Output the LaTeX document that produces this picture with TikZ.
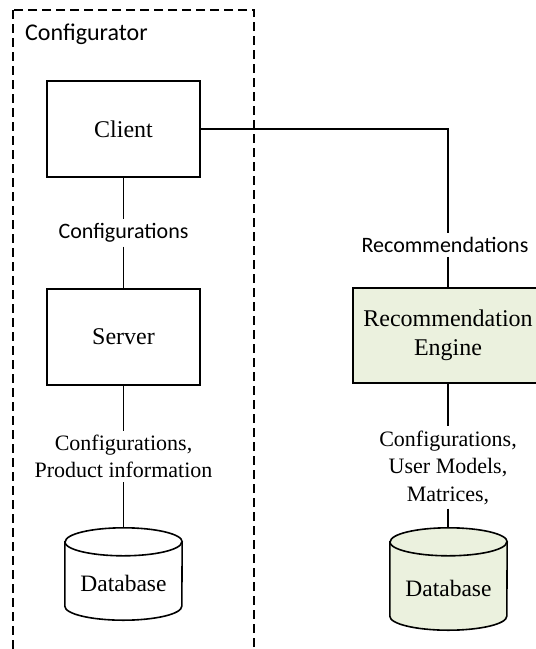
\documentclass[tikz,border=0pt]{standalone}
\usepackage{fontspec}
\setmainfont{Liberation Serif}
\setsansfont{Carlito}
\usepackage{tikz}
\usetikzlibrary{positioning, backgrounds}
\usepackage{xcolor}
\definecolor{enginegreen}{RGB}{235,241,222}

\begin{document}
\begin{tikzpicture}[x=1pt, y=-1pt,
    block/.style={draw, line width=1.5pt, minimum width=153pt, minimum height=96pt,
        align=center, font=\fontsize{24}{29}\selectfont},
    flowlabel/.style={inner sep=4pt, align=center, font=\fontsize{22}{27.5}\selectfont},
    sanslabel/.style={inner sep=4pt, font=\sffamily\fontsize{22}{25}\selectfont},
    dbbody/.style={minimum width=117pt, minimum height=#1, inner sep=0pt},
    dbtext/.style={yshift=-9pt, font=\fontsize{23.5}{27}\selectfont},
    link/.style={line width=1.6pt}]
    \path[use as bounding box] (0,0) rectangle (536,649);
    \clip (0,0) rectangle (536,649);

    % Configurator frame (runs off the bottom)
    \draw[line width=1.6pt, dash pattern=on 9pt off 5pt] (13,10) rectangle (254,670);
    \node[sanslabel, anchor=west, font=\sffamily\fontsize{24}{28}\selectfont] (cfgtitle)
        at (21,34) {Configurator};

    % Configurator side
    \node[block] (client) at (123.5,129) {Client};
    \node[sanslabel] (cfglabel) at (123.5,233) {Configurations};
    \node[block] (server) at (123.5,337) {Server};
    \node[flowlabel] (prodlabel) at (123.5,456.5) {Configurations,\\Product information};
    \node[dbbody=92pt, label={[dbtext]center:Database}] (cfgdb) at (123.5,574) {};

    % Recommender side
    \node[sanslabel] (reclabel) at (445,245) {Recommendations};
    \node[block, fill=enginegreen, minimum width=190pt, minimum height=95pt] (engine)
        at (448,335.5) {Recommendation\\Engine};
    \node[flowlabel] (englabel) at (448,467.5) {Configurations,\\User Models,\\Matrices,};
    \node[dbbody=102pt, label={[dbtext]center:Database}] (engdb) at (448.5,579) {};

    % Cylinders behind the database labels
    \begin{scope}[on background layer]
        \draw[link, fill=white] ([yshift=-14pt]cfgdb.north west) -- ([yshift=14pt]cfgdb.south west)
            arc[start angle=180, end angle=360, x radius=58.5pt, y radius=14pt]
            -- ([yshift=-14pt]cfgdb.north east)
            arc[start angle=0, end angle=180, x radius=58.5pt, y radius=14pt] -- cycle;
        \draw[link] ([yshift=-14pt]cfgdb.north west)
            arc[start angle=180, end angle=360, x radius=58.5pt, y radius=14pt];
        \draw[link, fill=enginegreen] ([yshift=-14pt]engdb.north west) -- ([yshift=14pt]engdb.south west)
            arc[start angle=180, end angle=360, x radius=58.5pt, y radius=14pt]
            -- ([yshift=-14pt]engdb.north east)
            arc[start angle=0, end angle=180, x radius=58.5pt, y radius=14pt] -- cycle;
        \draw[link] ([yshift=-14pt]engdb.north west)
            arc[start angle=180, end angle=360, x radius=58.5pt, y radius=14pt];
    \end{scope}

    % Connections
    \draw[link] (client) -- (cfglabel) -- (server) -- (prodlabel) -- (cfgdb);
    \draw[link] (client.east) -| (engine.north |- reclabel.north);
    \draw[link] (engine.north |- reclabel.south) -- (engine.north);
    \draw[link] (engine.south -| englabel) -- (englabel) -- (englabel |- engdb.north);
\end{tikzpicture}
\end{document}
